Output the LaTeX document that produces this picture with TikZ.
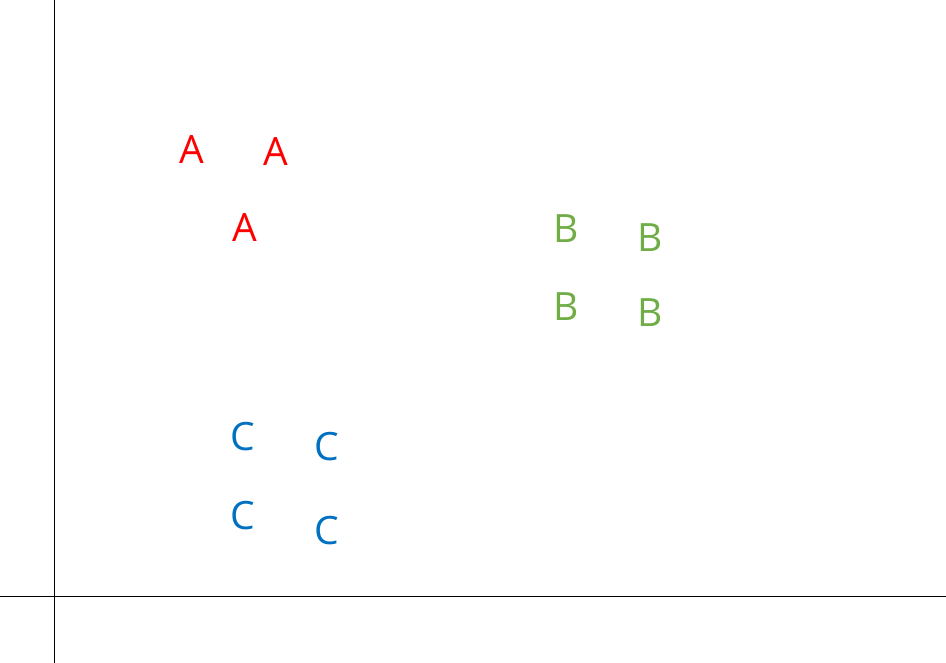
\documentclass[tikz,border=0pt]{standalone}
\usepackage{fontspec}
\setmainfont{Open Sans}
\definecolor{ared}{HTML}{FF0000}
\definecolor{bgreen}{HTML}{70AD47}
\definecolor{cblue}{HTML}{0070C0}
\begin{document}
\begin{tikzpicture}[x=1pt,y=-1pt,
  letter/.style={inner sep=0pt, anchor=center, font=\fontsize{39}{39}\selectfont},
  la/.style={letter, text=ared},
  lb/.style={letter, text=bgreen},
  lc/.style={letter, text=cblue},
  axis/.style={draw=black, line width=1pt}]
\useasboundingbox (0,0) rectangle (946,663);
\coordinate (vt) at (54,0);
\coordinate (vb) at (54,663);
\coordinate (hl) at (0,596.5);
\coordinate (hr) at (946,596.5);
\draw[axis] (vt) -- (vb);
\draw[axis] (hl) -- (hr);
\node[la] (a1) at (192,150) {A};
\node[la] (a2) at (276,152) {A};
\node[la] (a3) at (245,228) {A};
\node[lb] (b1) at (566,229) {B};
\node[lb] (b2) at (650,238) {B};
\node[lb] (b3) at (566,307) {B};
\node[lb] (b4) at (650,313) {B};
\node[lc] (c1) at (243,437) {C};
\node[lc] (c2) at (327,447) {C};
\node[lc] (c3) at (243,516) {C};
\node[lc] (c4) at (327,531) {C};
\end{tikzpicture}
\end{document}
